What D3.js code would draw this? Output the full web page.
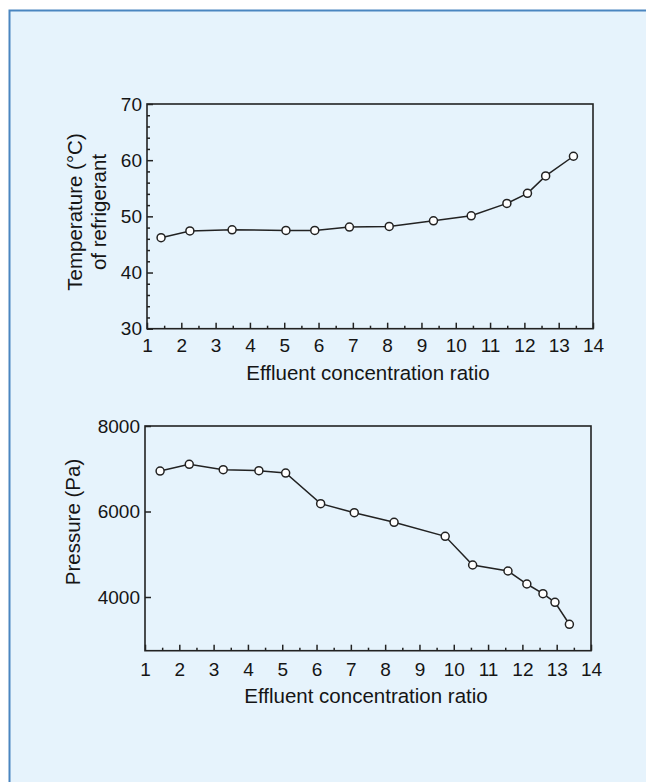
<!DOCTYPE html>
<html>
<head>
<meta charset="utf-8">
<script src="https://cdn.jsdelivr.net/npm/d3@7"></script>
<style>
  body { margin: 0; background: #fff; }
  text { font-family: "Liberation Sans", Arial, sans-serif; fill: #151515; }
</style>
</head>
<body>
<div id="chart"></div>
<script>
// data
var ratioTemp = [1.41, 2.25, 3.48, 5.05, 5.89, 6.9, 8.06, 9.35, 10.45, 11.49, 12.09, 12.62, 13.43];
var tempValues = [46.2, 47.4, 47.6, 47.5, 47.5, 48.1, 48.2, 49.2, 50.1, 52.3, 54.1, 57.2, 60.7];

var ratioPress = [1.44, 2.29, 3.28, 4.32, 5.1, 6.12, 7.1, 8.26, 9.75, 10.55, 11.58, 12.13, 12.6, 12.95, 13.37];
var pressValues = [6947, 7104, 6978, 6955, 6900, 6183, 5972, 5747, 5420, 4749, 4608, 4304, 4077, 3876, 3362];

var xTicks = [1, 2, 3, 4, 5, 6, 7, 8, 9, 10, 11, 12, 13, 14];
var tempTicks = [30, 40, 50, 60, 70];
var pressTicks = [4000, 6000, 8000];

var width = 646;
var height = 782;

var svg = d3.select("#chart")
  .append("svg")
  .attr("width", width)
  .attr("height", height);

// panel background and blue border
svg.append("rect")
  .attr("x", 9).attr("y", 10)
  .attr("width", width - 9).attr("height", height - 10)
  .attr("fill", "#e6f3fc");
svg.append("path")
  .attr("d", "M9.5," + height + "V10.5H" + width)
  .attr("fill", "none")
  .attr("stroke", "#4a86c0")
  .attr("stroke-width", 2);

function drawPanel(opt) {
  var x = d3.scaleLinear().domain([1, 14]).range([opt.left, opt.right]);
  var y = d3.scaleLinear().domain(opt.yDomain).range([opt.bottom, opt.top]);
  var g = svg.append("g");

  // frame
  g.append("rect")
    .attr("x", opt.left).attr("y", opt.top)
    .attr("width", opt.right - opt.left).attr("height", opt.bottom - opt.top)
    .attr("fill", "none")
    .attr("stroke", "#222")
    .attr("stroke-width", 1.6);

  // x minor ticks (inward)
  g.append("g")
    .attr("transform", `translate(0, ${opt.bottom})`)
    .call(d3.axisTop(x).tickValues(d3.range(1.5, 14, 1)).tickSize(3).tickFormat(""))
    .call(s => s.select(".domain").remove())
    .call(s => s.selectAll("line").attr("stroke", "#222").attr("stroke-width", 1.5));

  // x major ticks (inward) + labels below
  var xa = g.append("g")
    .attr("transform", `translate(0, ${opt.bottom})`)
    .call(d3.axisTop(x).tickValues(xTicks).tickSize(6).tickFormat(d3.format("d")));
  xa.select(".domain").remove();
  xa.selectAll("line").attr("stroke", "#222").attr("stroke-width", 1.5);
  xa.selectAll("text")
    .attr("y", opt.tickY)
    .attr("dy", 0)
    .style("font-size", "19px")
    .attr("fill", "#151515");

  // y minor ticks
  if (opt.yMinor) {
    g.append("g")
      .attr("transform", `translate(${opt.left}, 0)`)
      .call(d3.axisRight(y).tickValues(opt.yMinor).tickSize(3).tickFormat(""))
      .call(s => s.select(".domain").remove())
      .call(s => s.selectAll("line").attr("stroke", "#222").attr("stroke-width", 1.5));
  }

  var ya = g.append("g")
    .attr("transform", `translate(${opt.left}, 0)`)
    .call(d3.axisRight(y).tickValues(opt.yTicks).tickSize(6).tickFormat(d3.format("d")));
  ya.select(".domain").remove();
  ya.selectAll("line").attr("stroke", "#222").attr("stroke-width", 1.5);
  ya.selectAll("text")
    .attr("x", -5)
    .attr("text-anchor", "end")
    .style("font-size", "19px")
    .attr("fill", "#151515");

  // line + markers
  var pts = opt.xs.map((d, i) => [d, opt.ys[i]]);
  g.append("path")
    .datum(pts)
    .attr("fill", "none")
    .attr("stroke", "#222")
    .attr("stroke-width", 1.5)
    .attr("d", d3.line().x(d => x(d[0])).y(d => y(d[1])));
  g.selectAll("circle")
    .data(pts)
    .enter()
    .append("circle")
    .attr("cx", d => x(d[0]))
    .attr("cy", d => y(d[1]))
    .attr("r", 4)
    .attr("fill", "#ffffff")
    .attr("stroke", "#222")
    .attr("stroke-width", 1.5);

  // x title
  g.append("text")
    .attr("x", (opt.left + opt.right) / 2 - 2)
    .attr("y", opt.bottom + opt.titleOffset)
    .attr("text-anchor", "middle")
    .style("font-size", "20.5px")
    .text("Effluent concentration ratio");

  // y title
  var yt = g.append("text")
    .attr("transform", `translate(${opt.titleX}, ${opt.titleY}) rotate(-90)`)
    .attr("text-anchor", "middle")
    .style("font-size", "20.5px");
  opt.yTitle.forEach(function (line, i) {
    yt.append("tspan")
      .attr("x", 0)
      .attr("dy", i === 0 ? 0 : 24)
      .text(line);
  });
}

drawPanel({
  left: 147, right: 593, top: 104, bottom: 328.7,
  yDomain: [30, 70],
  yTicks: tempTicks,
  yMinor: d3.range(32, 70, 2).filter(d => d % 10 !== 0),
  xs: ratioTemp, ys: tempValues,
  yTitle: ["Temperature (°C)", "of refrigerant"],
  titleX: 82, titleY: 212,
  tickY: 23.5, titleOffset: 51
});

drawPanel({
  left: 145, right: 591, top: 426, bottom: 650.7,
  yDomain: [2744, 8000],
  yTicks: pressTicks,
  yMinor: null,
  xs: ratioPress, ys: pressValues,
  yTitle: ["Pressure (Pa)"],
  titleX: 80, titleY: 522,
  tickY: 25.5, titleOffset: 52.5
});
</script>
</body>
</html>
